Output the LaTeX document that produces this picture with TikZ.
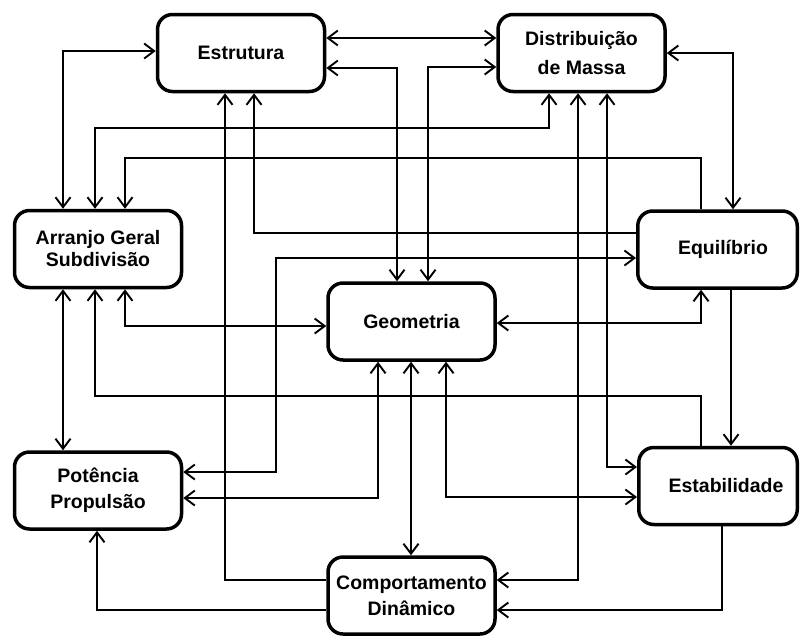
\documentclass[tikz,border=0pt]{standalone}
\usepackage{fontspec}
\setmainfont{Liberation Sans}
\usetikzlibrary{arrows.meta}
\begin{document}
\begin{tikzpicture}[x=1pt,y=-1pt,
  box/.style={draw, line width=3.5pt, rounded corners=15pt, minimum width=167pt, minimum height=77pt,
    inner sep=0pt, align=center, font=\fontsize{19.5pt}{26pt}\selectfont\bfseries},
  link/.style={line width=1.9pt},
  >={Straight Barb[length=10pt,width=15pt]}]
\useasboundingbox (0,0) rectangle (800,635);

\node[box] (est) at (241,53) {Estrutura};
\node[box] (dis) at (581.5,53) {Distribuição\\[3pt]de Massa};
\node[box] (arr) at (98,249) {Arranjo Geral\\[-4pt]Subdivisão};
\node[box, minimum width=159.5pt] (equ) at (717.5,249.5) {\hspace*{11pt}Equilíbrio};
\node[box] (geo) at (411.5,321.5) {Geometria};
\node[box] (pot) at (98,490.5) {Potência\\Propulsão};
\node[box, minimum width=158.5pt] (sta) at (718,486) {\hspace*{16pt}Estabilidade};
\node[box] (com) at (411.5,595.5) {Comportamento\\Dinâmico};

% top area
\draw[link,<->] (arr.north -| 63,0) |- (est.west |- 0,51);
\draw[link,<->] (est.east |- 0,38) -- (dis.west |- 0,38);
\draw[link,<->] (est.east |- 0,68) -| (geo.north -| 397,0);
\draw[link,<->] (dis.west |- 0,67) -| (geo.north -| 428,0);
\draw[link,->] (equ.west |- 0,233) -| (est.south -| 254,0);
\draw[link,->] (com.west |- 0,580) -| (est.south -| 225,0);
\draw[link,<->] (arr.north -| 95,0) -- (95,128) -| (dis.south -| 549,0);
\draw[link,->] (equ.north -| 701,0) -- (701,158) -| (arr.north -| 125,0);
\draw[link,<->] (dis.east |- 0,53) -| (equ.north -| 733,0);
\draw[link,<->] (dis.south -| 578,0) |- (com.east |- 0,580);
\draw[link,<->] (dis.south -| 607,0) |- (sta.west |- 0,467);
\draw[link,<->] (pot.east |- 0,472) -| (276,258) -- (equ.west |- 0,258);

% middle / bottom area
\draw[link,<->] (arr.south -| 63,0) -- (pot.north -| 63,0);
\draw[link,<->] (arr.south -| 125,0) |- (geo.west |- 0,326);
\draw[link,->] (sta.north -| 701,0) -- (701,396) -| (arr.south -| 95,0);
\draw[link,<->] (equ.south -| 701,0) |- (geo.east |- 0,323);
\draw[link,->] (equ.south -| 731,0) -- (sta.north -| 731,0);
\draw[link,<->] (geo.south -| 411,0) -- (com.north -| 411,0);
\draw[link,<->] (geo.south -| 378,0) |- (pot.east |- 0,498);
\draw[link,<->] (geo.south -| 446,0) |- (sta.west |- 0,497);
\draw[link,->] (sta.south -| 722,0) |- (com.east |- 0,610);
\draw[link,->] (com.west |- 0,610) -| (pot.south -| 97,0);
\end{tikzpicture}
\end{document}
